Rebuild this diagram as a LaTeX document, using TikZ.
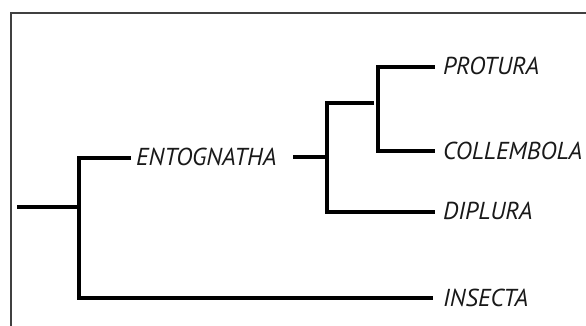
\documentclass[tikz,border=0pt]{standalone}
\usepackage{fontspec}
\setmainfont{PT Sans}
\begin{document}
\begin{tikzpicture}[x=1pt,y=-1pt,
  branch/.style={line width=4pt,line cap=butt},
  taxon/.style={font=\fontsize{24.5}{28}\selectfont\itshape,anchor=west,inner sep=0pt,text=black!90},
  frame/.style={draw=black!75,line width=1.6pt}]
\useasboundingbox (0,0) rectangle (586,325);
\draw[frame] (11,340) -- (11,13) -- (600,13);
% coordinates
\coordinate (root) at (17,207);
\coordinate (r) at (79,207);
\coordinate (rt) at (79,158);
\coordinate (rb) at (79,300);
\coordinate (ent) at (131,158);
\node[taxon] (entog) at (136,157) {ENTOGNATHA};
\coordinate (e1) at (293,157);
\coordinate (e2) at (327,157);
\coordinate (et) at (327,103);
\coordinate (eb) at (327,214);
\coordinate (pc) at (374,103);
\coordinate (pcv) at (378,103);
\coordinate (pt) at (378,67);
\coordinate (pb) at (378,151);
\coordinate (pe) at (435,67);
\coordinate (ce) at (435,151);
\coordinate (de) at (435,212);
\coordinate (ie) at (433,298);
\node[taxon] (protura) at (443,66) {PROTURA};
\node[taxon] (collembola) at (443,151) {COLLEMBOLA};
\node[taxon] (diplura) at (443,211) {DIPLURA};
\node[taxon] (insecta) at (443,298) {INSECTA};
\draw[branch] (root) -- (r);
\draw[branch] (79,156) -- (rb);
\draw[branch] (rt) -- (ent);
\draw[branch] (79,298) -- (ie);
\draw[branch] (e1) -- (e2);
\draw[branch] (327,101) -- (eb);
\draw[branch] (et) -- (pc);
\draw[branch] (eb |- de) -- (de);
\draw[branch] (378,65) -- (378,153);
\draw[branch] (pt) -- (pe);
\draw[branch] (pb) -- (ce);
\end{tikzpicture}
\end{document}
